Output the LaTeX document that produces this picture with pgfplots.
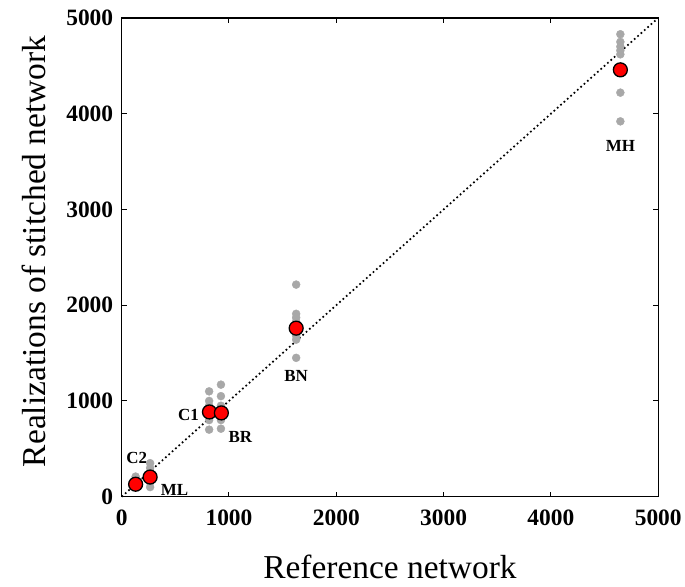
\documentclass[border=0pt]{standalone}
\usepackage{fontspec}
\setmainfont{Liberation Serif}
\usepackage{pgfplots}
\pgfplotsset{compat=1.18}
\definecolor{ptgray}{HTML}{A8A8A8}
\definecolor{ptred}{HTML}{FF0000}
\begin{document}
\begin{tikzpicture}
\begin{axis}[
  name=ax,
  scale only axis,
  width=538pt, height=480pt,
  xmin=0, xmax=5000, ymin=0, ymax=5000,
  xtick={0,1000,...,5000}, ytick={0,1000,...,5000},
  tick align=inside, major tick length=5pt,
  tick style={black, line width=1pt},
  axis line style={black, line width=1.3pt},
  /pgf/number format/assume math mode=true,
  /pgf/number format/1000 sep={},
  ticklabel style={font=\fontsize{23.5}{26}\selectfont\bfseries},
  xticklabel style={yshift=-10pt},
  yticklabel style={xshift=-5pt},
  xlabel={Reference network},
  ylabel={Realizations of stitched network},
  label style={font=\fontsize{33.5}{38}\selectfont},
  xlabel style={at={([yshift=-82pt]axis description cs:0.5,0)}, anchor=base},
  ylabel style={at={([xshift=-76pt,yshift=6pt]axis description cs:0,0.5)}, anchor=base},
  clip=false,
]
% identity line
\addplot[black, line width=1.7pt, dash pattern=on 1.7pt off 2.8pt] coordinates {(0,0) (5000,5000)};
% individual realizations
\addplot[only marks, mark=*, mark size=4pt, mark options={draw=ptgray, fill=ptgray}] coordinates {
  (130,130) (130,170) (130,210)
  (265,100) (265,150) (265,200) (265,250) (265,300) (265,350)
  (815,1100) (815,1000) (815,950) (815,900) (815,800) (815,700)
  (925,1170) (925,1050) (925,950) (925,900) (925,800) (925,710)
  (1626,2215) (1626,1910) (1626,1870) (1626,1830) (1626,1680) (1626,1640) (1626,1450)
  (4647,4830) (4647,4750) (4647,4700) (4647,4660) (4647,4620) (4647,4220) (4647,3920)
};
% mean of realizations
\addplot[only marks, mark=*, mark size=7pt, mark options={draw=black, fill=ptred, line width=1.3pt}] coordinates {
  (130,130) (265,205) (818,885) (929,875) (1626,1760) (4647,4458)
};
\begin{scope}[every node/.style={font=\fontsize{17}{19}\selectfont\bfseries}]
\node at (axis cs:140,406) {C2};
\node at (axis cs:493,73) {ML};
\node at (axis cs:623,854) {C1};
\node at (axis cs:1106,625) {BR};
\node at (axis cs:1626,1260) {BN};
\node at (axis cs:4647,3667) {MH};
\end{scope}
\end{axis}
% page frame around the plot
\path ([xshift=-122pt,yshift=18pt]ax.north west) rectangle ([xshift=25pt,yshift=-90pt]ax.south east);
\end{tikzpicture}
\end{document}
